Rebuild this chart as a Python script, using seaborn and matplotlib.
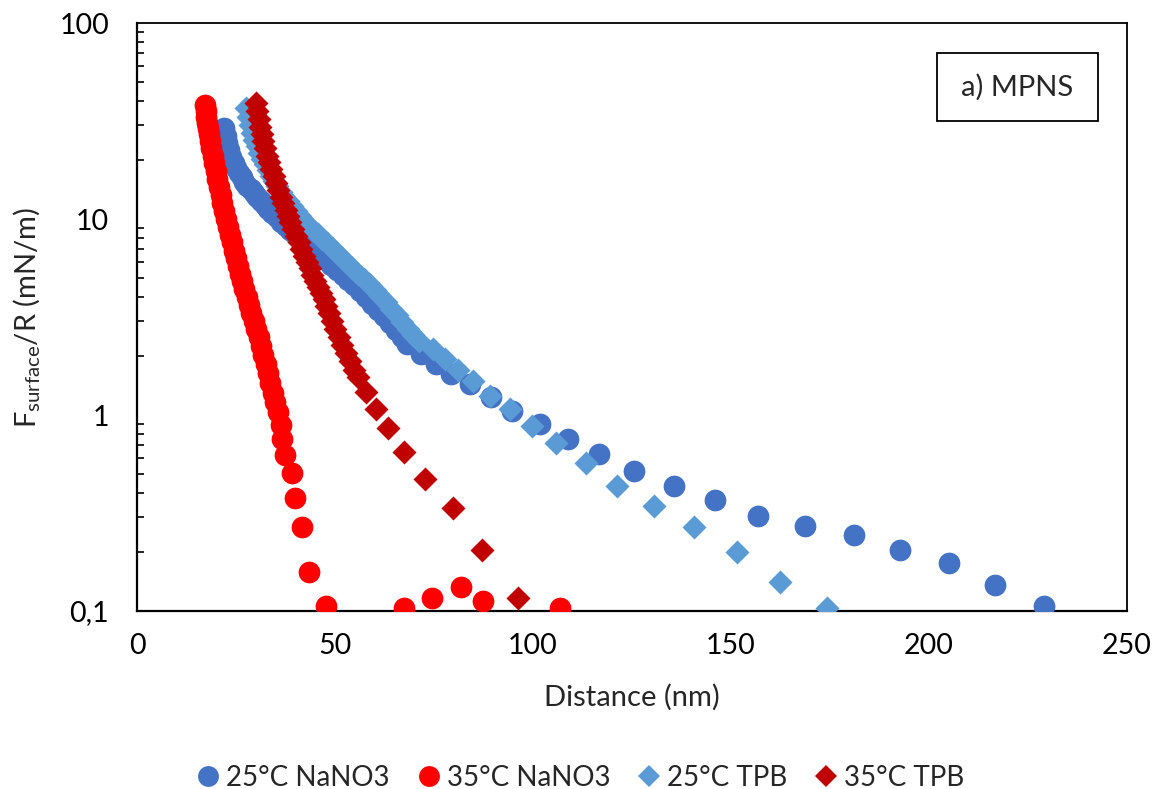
import numpy as np
import pandas as pd
import matplotlib
matplotlib.use("Agg")
import matplotlib.pyplot as plt
import seaborn as sns
from matplotlib.ticker import LogLocator, NullFormatter, FixedLocator, FixedFormatter
from matplotlib.lines import Line2D
from matplotlib.patches import Rectangle

# ---------------- data ----------------
series_names = ["25°C NaNO3", "35°C NaNO3", "25°C TPB", "35°C TPB"]

x_25_nano = [22.0, 22.4, 22.8, 23.3, 23.8, 24.4, 25.0, 25.7, 26.4, 27.1, 27.9, 28.7,
             29.5, 30.4, 31.3, 32.2, 33.2, 34.2, 35.3, 36.4, 37.5, 38.7, 39.9, 41.1,
             42.4, 43.7, 45.0, 46.3, 47.7, 49.1, 50.5, 51.9, 53.4, 54.9, 56.4, 57.9,
             59.4, 60.9, 62.4, 63.9, 65.4, 66.8, 68.2, 71.7, 75.5, 79.3, 84.1, 89.4,
             94.7, 101.8, 108.8, 116.7, 125.5, 135.6, 146.0, 156.8, 168.7, 181.1,
             192.7, 205.1, 216.7, 229.0]
y_25_nano = [29.0, 26.5, 24.5, 22.5, 20.8, 19.3, 18.2, 17.2, 16.3, 15.5, 14.8, 14.2,
             13.6, 13.0, 12.4, 11.8, 11.2, 10.7, 10.2, 9.7, 9.2, 8.8, 8.4, 8.0,
             7.6, 7.2, 6.85, 6.5, 6.15, 5.8, 5.5, 5.2, 4.9, 4.6, 4.3, 4.0,
             3.7, 3.45, 3.2, 2.95, 2.72, 2.5, 2.30, 2.04, 1.82, 1.62, 1.44, 1.23,
             1.05, 0.90, 0.755, 0.634, 0.519, 0.436, 0.370, 0.307, 0.273, 0.243,
             0.204, 0.175, 0.135, 0.106]

x_35_nano = [17.2, 17.3, 17.5, 17.7, 17.9, 18.2, 18.5, 18.8, 19.1, 19.5, 19.9, 20.3,
             20.7, 21.1, 21.5, 22.0, 22.4, 22.9, 23.4, 23.9, 24.4, 24.9, 25.5, 26.0,
             26.6, 27.1, 27.7, 28.3, 28.9, 29.5, 30.1, 30.7, 31.3, 31.9, 32.5, 33.1,
             33.7, 34.3, 34.9, 35.5, 36.3, 36.6, 37.4, 39.1, 39.9, 41.7, 43.4, 47.7,
             67.4, 74.5, 81.8, 87.4, 106.8]
y_35_nano = [38.0, 35.5, 33.0, 31.0, 29.0, 27.0, 25.0, 23.0, 21.0, 19.2, 17.5, 16.0,
             14.6, 13.3, 12.1, 11.0, 10.0, 9.1, 8.3, 7.6, 6.9, 6.3, 5.75, 5.25,
             4.8, 4.4, 4.0, 3.65, 3.3, 3.0, 2.75, 2.5, 2.25, 2.02, 1.82, 1.63,
             1.46, 1.3, 1.16, 1.03, 0.89, 0.755, 0.626, 0.507, 0.379, 0.267, 0.159, 0.106,
             0.104, 0.117, 0.132, 0.112, 0.103]

x_25_tpb = [27.5, 28.0, 28.5, 29.0, 29.6, 30.2, 30.9, 31.6, 32.3, 33.0, 33.8, 34.6,
            35.4, 36.3, 37.2, 38.1, 39.1, 40.1, 41.1, 42.2, 43.3, 44.4, 45.6, 46.8,
            48.0, 49.2, 50.5, 51.8, 53.1, 54.4, 55.8, 57.2, 58.6, 60.0, 61.4, 62.8,
            64.2, 65.6, 67.0, 68.4, 69.8, 71.2, 74.7, 77.8, 81.1, 84.8, 89.1, 94.2,
            99.7, 105.9, 113.4, 121.2, 130.6, 140.7, 151.5, 162.4, 174.2]
y_25_tpb = [37.0, 33.0, 30.0, 27.5, 25.3, 23.5, 21.8, 20.3, 19.0, 17.8, 16.6, 15.6,
            14.7, 13.8, 13.0, 12.3, 11.6, 11.0, 10.4, 9.8, 9.3, 8.8, 8.35, 7.9,
            7.5, 7.1, 6.7, 6.3, 5.95, 5.6, 5.25, 4.95, 4.65, 4.35, 4.05, 3.75,
            3.48, 3.22, 2.98, 2.76, 2.56, 2.38, 2.16, 1.93, 1.69, 1.49, 1.25, 1.07,
            0.88, 0.72, 0.57, 0.436, 0.344, 0.267, 0.199, 0.14, 0.103]

x_35_tpb = [30.1, 30.4, 30.7, 31.1, 31.5, 31.9, 32.4, 32.9, 33.4, 33.9, 34.5, 35.1,
            35.7, 36.3, 36.9, 37.5, 38.1, 38.7, 39.4, 40.1, 40.8, 41.5, 42.2, 42.9,
            43.6, 44.3, 45.0, 45.7, 46.4, 47.1, 47.8, 48.5, 49.3, 50.1, 50.9, 51.8,
            52.7, 53.7, 54.7, 55.8, 57.8, 60.4, 63.4, 67.4, 72.7, 79.8, 87.1, 96.2]
y_35_tpb = [39.0, 35.5, 32.5, 29.5, 27.0, 25.0, 23.0, 21.0, 19.5, 18.0, 16.5, 15.3,
            14.0, 13.0, 12.0, 11.1, 10.3, 9.6, 8.9, 8.2, 7.6, 7.0, 6.5, 6.0,
            5.6, 5.2, 4.85, 4.5, 4.2, 3.9, 3.6, 3.3, 3.0, 2.75, 2.5, 2.28,
            2.08, 1.88, 1.7, 1.56, 1.31, 1.07, 0.86, 0.65, 0.473, 0.336, 0.204, 0.116]

x_ticks = [0, 50, 100, 150, 200, 250]
y_ticks = [0.1, 1, 10, 100]
y_tick_labels = ["0,1", "1", "10", "100"]

# ---------------- styling ----------------
colors = ["#4472C4", "#FF0000", "#5B9BD5", "#C00000"]
markers = ["o", "o", "D", "D"]
sizes = [245, 245, 150, 150]
legend_ms = [15.0, 15.0, 11.0, 11.0]

sns.set_style("white")
plt.rcParams["font.family"] = ["Lato", "DejaVu Sans"]

xs = [x_25_nano, x_35_nano, x_25_tpb, x_35_tpb]
ys = [y_25_nano, y_35_nano, y_25_tpb, y_35_tpb]

fig = plt.figure(figsize=(11.59, 7.89), dpi=100)
ax = fig.add_axes([137 / 1159, 1 - 611 / 789, 990 / 1159, 588 / 789])

for name, x, y, c, m, s in zip(series_names, xs, ys, colors, markers, sizes):
    df = pd.DataFrame({"Distance": x, "F": y})
    sns.scatterplot(data=df, x="Distance", y="F", ax=ax, color=c, marker=m, s=s,
                    linewidth=0, legend=False, zorder=3)

ax.set_yscale("log")
ax.set_xlim(0, 250)
ax.set_ylim(0.1, 100)
ax.xaxis.set_major_locator(FixedLocator(x_ticks))
ax.set_xticklabels([str(t) for t in x_ticks])
ax.yaxis.set_major_locator(FixedLocator(y_ticks))
ax.yaxis.set_major_formatter(FixedFormatter(y_tick_labels))
ax.yaxis.set_minor_locator(LogLocator(base=10, subs=np.arange(2, 10)))
ax.yaxis.set_minor_formatter(NullFormatter())

ax.tick_params(axis="both", which="major", direction="in", length=7, width=1.4,
               labelsize=20.5, color="black", labelcolor="black")
ax.tick_params(axis="x", which="major", pad=16)
ax.tick_params(axis="y", which="major", pad=20)
ax.tick_params(axis="y", which="minor", direction="in", length=5, width=1.2,
               color="black", left=True)
ax.tick_params(axis="x", which="minor", bottom=False)

for side, sp in ax.spines.items():
    sp.set_visible(True)
    sp.set_color("black")
    sp.set_linewidth(1.6 if side in ("left", "bottom") else 1.3)

ax.set_xlabel("Distance (nm)", fontsize=21, labelpad=18)
ax.set_ylabel(r"F$_{\mathregular{surface}}$/R (mN/m)", fontsize=21, labelpad=12)

# annotation box
ax.add_patch(Rectangle((0.808, 0.833), 0.163, 0.116, transform=ax.transAxes,
                       facecolor="white", edgecolor="black", linewidth=1.3, zorder=5))
ax.text(0.889, 0.891, "a) MPNS", transform=ax.transAxes, ha="center", va="center",
        fontsize=21, zorder=6)

handles = [Line2D([], [], linestyle="none", marker=m, color=c, markersize=ms,
                  markeredgewidth=0)
           for m, c, ms in zip(markers, colors, legend_ms)]
fig.legend(handles, series_names, loc="center", bbox_to_anchor=(0.5, 1 - 778 / 789),
           ncol=4, frameon=False, fontsize=20, handletextpad=0.15, columnspacing=0.9,
           handlelength=1.0)

fig.savefig("out.png", dpi=100)
